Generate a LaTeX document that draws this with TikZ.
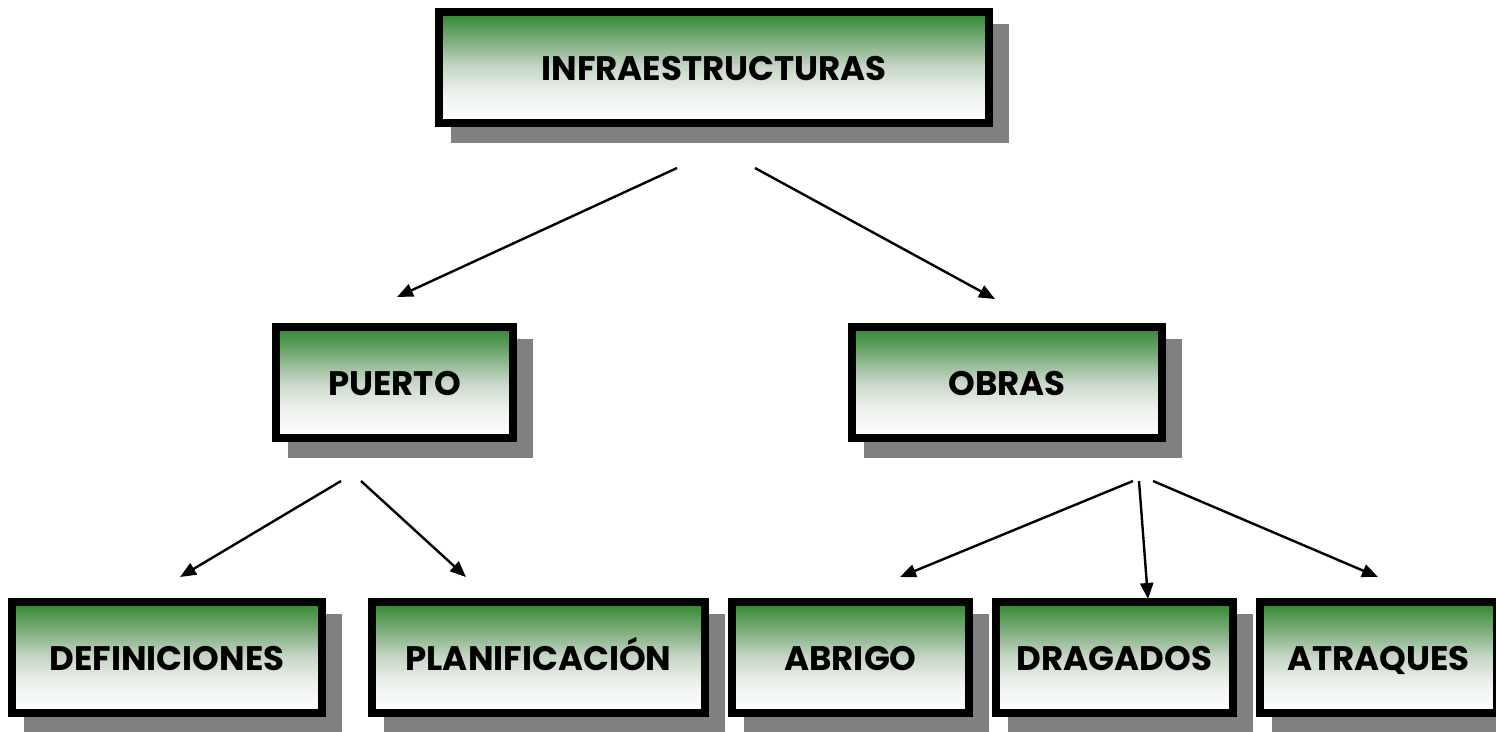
\documentclass[tikz,border=0pt]{standalone}
\usepackage{fontspec}
\setmainfont{Poppins}
\usetikzlibrary{arrows.meta,shadows}
\definecolor{grtop}{RGB}{46,135,46}
\definecolor{grmid}{RGB}{120,170,120}
\definecolor{grlow}{RGB}{200,215,200}
\definecolor{grbot}{RGB}{238,242,238}
\definecolor{shad}{RGB}{128,128,128}
\pgfdeclareverticalshading{boxgrad}{100bp}{color(0bp)=(white); color(25bp)=(white!97!grbot); color(38bp)=(grbot); color(50bp)=(grlow); color(63bp)=(grmid); color(75bp)=(grtop); color(100bp)=(grtop)}
\tikzset{
  box/.style={draw=black, line width=8pt, shading=boxgrad, minimum height=111pt,
    inner sep=0pt, text height=25pt, text depth=0pt,
    font=\fontsize{34}{38}\selectfont\bfseries, text=black,
    general shadow={fill=shad, draw=shad, line width=8pt, shadow xshift=16pt, shadow yshift=-16pt}},
  conn/.style={line width=2.4pt, -{Triangle[length=16pt,width=13pt]}}
}
\begin{document}
\begin{tikzpicture}[x=1pt,y=-1pt]
\useasboundingbox (0,0) rectangle (1496,731);
\clip (0,0) rectangle (1496,731);
\node[box, minimum width=550pt] (infra) at (714,67.5) {INFRAESTRUCTURAS};
\node[box, minimum width=237pt] (puerto) at (394.5,382.5) {PUERTO};
\node[box, minimum width=310pt] (obras) at (1007,382.5) {OBRAS};
\node[box, minimum width=310pt] (def) at (167,657.5) {DEFINICIONES};
\node[box, minimum width=333pt] (plan) at (538.5,657.5) {PLANIFICACIÓN};
\node[box, minimum width=237pt] (abrigo) at (850.5,657.5) {ABRIGO};
\node[box, minimum width=237pt] (drag) at (1114.5,657.5) {DRAGADOS};
\node[box, minimum width=237pt] (atraq) at (1378.5,657.5) {ATRAQUES};
% connector end points
\coordinate (iL) at (677,168);
\coordinate (iR) at (755,168);
\coordinate (pT) at (397,297);
\coordinate (oT) at (995,299);
\coordinate (pL) at (341,481);
\coordinate (pR) at (361,481);
\coordinate (dT) at (180,577);
\coordinate (plT) at (466,577);
\coordinate (oL) at (1133,481);
\coordinate (oM) at (1139,481);
\coordinate (oR) at (1153,481);
\coordinate (aT) at (900,577);
\coordinate (drT) at (1148,599);
\coordinate (atT) at (1378,577);
\draw[conn] (iL) -- (pT);
\draw[conn] (iR) -- (oT);
\draw[conn] (pL) -- (dT);
\draw[conn] (pR) -- (plT);
\draw[conn] (oL) -- (aT);
\draw[conn] (oM) -- (drT);
\draw[conn] (oR) -- (atT);
\end{tikzpicture}
\end{document}
